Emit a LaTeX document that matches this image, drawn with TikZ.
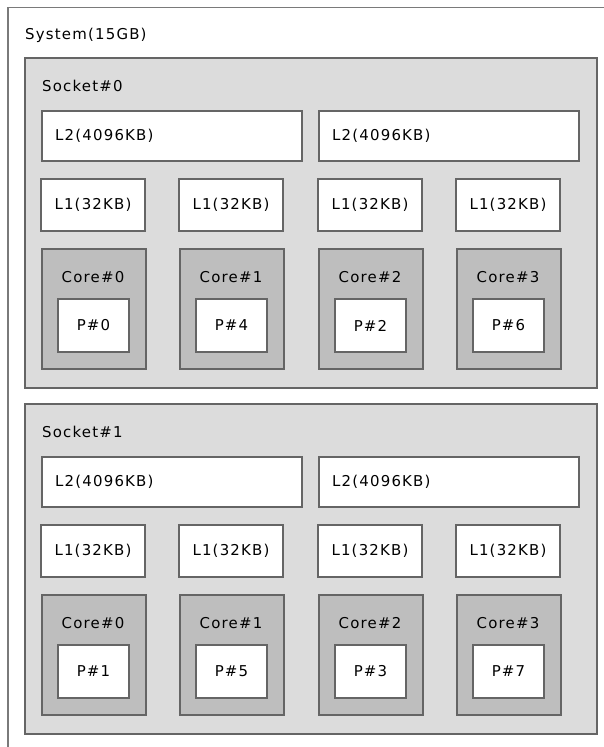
\documentclass[tikz,border=0pt]{standalone}
\usepackage{fontspec}
\setmainfont[LetterSpace=8]{DejaVu Sans}
\definecolor{edge}{HTML}{656565}
\definecolor{sysedge}{HTML}{7A7A7A}
\definecolor{sockfill}{HTML}{DCDCDC}
\definecolor{corefill}{HTML}{BEBEBE}
\tikzset{
  txt/.style={font=\fontsize{15}{18}\selectfont, text=black},
  sysbox/.style={draw=sysedge, line width=1.5bp, fill=white, rectangle, anchor=north west, inner sep=0},
  sockbox/.style={draw=edge, line width=2bp, fill=sockfill, rectangle, anchor=north west, inner sep=0, minimum width=572bp, minimum height=330bp},
  l2box/.style={draw=edge, line width=2bp, fill=white, rectangle, anchor=north west, inner sep=0, minimum width=260bp, minimum height=50bp},
  l1box/.style={draw=edge, line width=2bp, fill=white, rectangle, inner sep=0, minimum width=104bp, minimum height=52bp, txt},
  corebox/.style={draw=edge, line width=2bp, fill=corefill, rectangle, anchor=north west, inner sep=0, minimum width=104bp, minimum height=120bp},
  pbox/.style={draw=edge, line width=2bp, fill=white, rectangle, inner sep=0, minimum width=71bp, minimum height=53bp, txt},
  lbl/.style={anchor=west, inner sep=0, txt},
  clbl/.style={inner sep=0, txt}
}
\begin{document}
\begin{tikzpicture}[x=1bp,y=-1bp]
\useasboundingbox (0,0) rectangle (604,747);
\clip (0,0) rectangle (604,747);
\node[sysbox, minimum width=620bp, minimum height=760bp] (sys) at (7,7) {};
\node[lbl] (systxt) at (25,35) {System(15GB)};
\foreach \s/\dy/\pa/\pb/\pc/\pd in {0/0/0/4/2/6, 1/346/1/5/3/7}{
  \node[sockbox] (sock\s) at (24,57+\dy) {};
  \node[lbl] (socktxt\s) at (42,86+\dy) {Socket\#\s};
  \node[l2box] (l2a\s) at (41,110+\dy) {};
  \node[lbl] at ([xshift=14bp]l2a\s.west) {L2(4096KB)};
  \node[l2box] (l2b\s) at (318,110+\dy) {};
  \node[lbl] at ([xshift=14bp]l2b\s.west) {L2(4096KB)};
  \foreach \c/\x/\p in {0/41/\pa, 1/179/\pb, 2/318/\pc, 3/456/\pd}{
    \node[l1box] (l1\s\c) at (\x+52,205+\dy) {L1(32KB)};
    \node[corebox] (core\s\c) at (\x,248+\dy) {};
    \node[clbl] (coretxt\s\c) at (\x+52,277+\dy) {Core\#\c};
    \node[pbox] (p\s\c) at (\x+52.5,325.5+\dy) {P\#\p};
  }
}
\end{tikzpicture}
\end{document}
